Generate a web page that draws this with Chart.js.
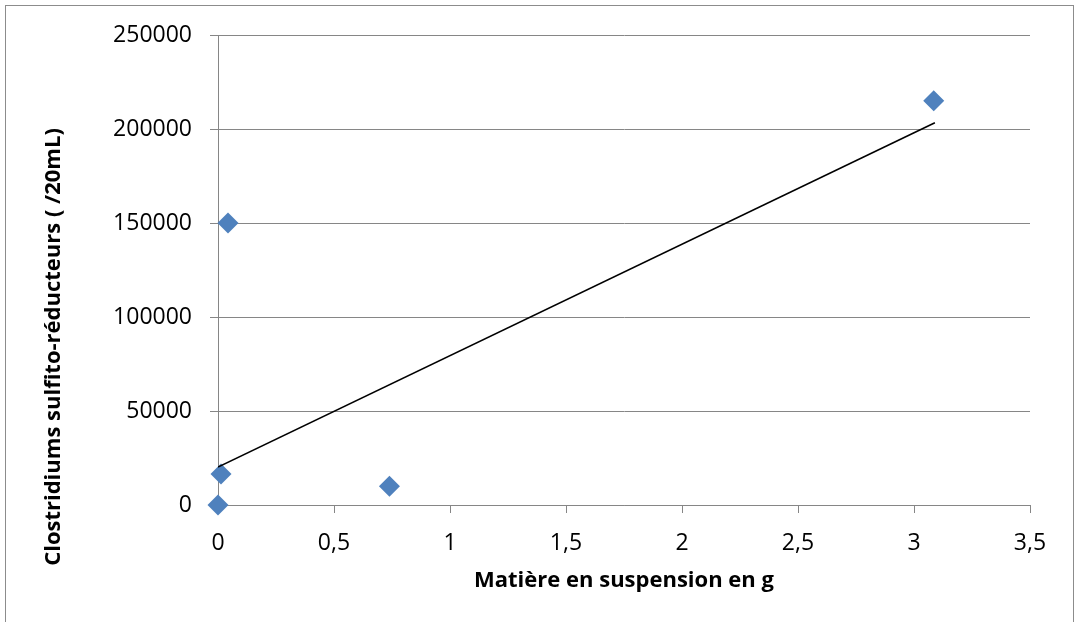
<!DOCTYPE html>
<html>
<head>
<meta charset="utf-8">
<script src="https://cdn.jsdelivr.net/npm/chart.js@4/dist/chart.umd.min.js"></script>
<style>
  body { margin: 0; background: #fff; }
  #wrap { width: 1077px; height: 622px; }
</style>
</head>
<body>
<div id="wrap"><canvas id="chart" width="1077" height="622"></canvas></div>
<script>
// points
const msValues = [0, 0.013, 0.043, 0.739, 3.085]
const clostridiums = [0, 16500, 150000, 10000, 215000]

// trend line ends
const trendX = [0, 3.09]
const trendY = [20200, 203300]

const xTickLabels = ['0', '0,5', '1', '1,5', '2', '2,5', '3', '3,5']
const yTickLabels = ['0', '50000', '100000', '150000', '200000', '250000']

const xTitle = 'Matière en suspension en g'
const yTitle = 'Clostridiums sulfito-réducteurs ( /20mL)'

const gray = '#868686'
const fontFamily = "'Open Sans'"

const pts = msValues.map((x, i) => ({ x: x, y: clostridiums[i] }))
const trend = trendX.map((x, i) => ({ x: x, y: trendY[i] }))

// outer frame of the excel chart + y title (excel centres it on the whole frame, not the plot)
const framePlugin = {
  id: 'frame',
  beforeDraw(chart) {
    const ctx = chart.ctx
    ctx.save()
    ctx.fillStyle = '#fff'
    ctx.fillRect(0, 0, chart.width, chart.height)
    ctx.strokeStyle = '#8c8c8c'
    ctx.lineWidth = 1
    ctx.strokeRect(5.5, 5.5, 1068, 700)
    ctx.restore()
  },
  afterDraw(chart) {
    const ctx = chart.ctx
    ctx.save()
    ctx.translate(54, 347)
    ctx.rotate(-Math.PI / 2)
    ctx.fillStyle = '#000'
    ctx.font = "bold 22px 'Open Sans'"
    ctx.textAlign = 'center'
    ctx.textBaseline = 'middle'
    ctx.fillText(yTitle, 0, 0)
    ctx.restore()
  }
}

const config = {
  type: 'scatter',
  data: {
    datasets: [{
      label: 'points',
      data: pts,
      pointStyle: 'rectRot',
      pointRadius: 10.5,
      pointHoverRadius: 10.5,
      backgroundColor: '#4F81BD',
      borderColor: '#4F81BD',
      borderWidth: 0,
      clip: false,
      order: 2
    }, {
      label: 'tendance',
      data: trend,
      showLine: true,
      borderColor: '#000',
      borderWidth: 1.6,
      pointRadius: 0,
      order: 1
    }]
  },
  options: {
    responsive: false,
    animation: false,
    layout: { padding: { top: 35, right: 47, left: 0, bottom: 0 } },
    plugins: {
      legend: { display: false },
      tooltip: { enabled: false }
    },
    scales: {
      x: {
        type: 'linear',
        min: 0,
        max: 3.5,
        afterFit(scale) { scale.height = 117 },
        grid: { drawOnChartArea: false, drawTicks: true, tickLength: 8, color: gray },
        border: { color: gray, width: 1 },
        ticks: {
          stepSize: 0.5,
          padding: 17,
          color: '#000',
          font: { family: fontFamily, size: 23 },
          callback: (v, i) => xTickLabels[i]
        },
        title: {
          display: true,
          text: xTitle,
          color: '#000',
          font: { family: fontFamily, size: 22, weight: 'bold' },
          padding: { top: 0, bottom: 28 }
        }
      },
      y: {
        type: 'linear',
        min: 0,
        max: 250000,
        afterFit(scale) { scale.width = 218 },
        grid: { drawOnChartArea: true, drawTicks: true, tickLength: 8, color: gray },
        border: { color: gray, width: 1 },
        ticks: {
          stepSize: 50000,
          padding: 18,
          color: '#000',
          font: { family: fontFamily, size: 23 },
          callback: (v, i) => yTickLabels[i]
        },
        title: { display: false }
      }
    }
  },
  plugins: [framePlugin]
}

const myChart = new Chart(document.getElementById('chart'), config)
</script>
</body>
</html>
